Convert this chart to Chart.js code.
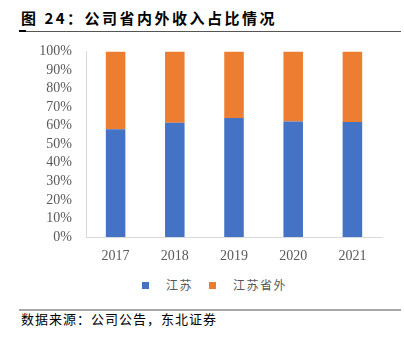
<!DOCTYPE html>
<html lang="zh">
<head>
    <meta charset="UTF-8">
    <title>公司省内外收入占比情况</title>
    <script src="https://cdn.jsdelivr.net/npm/chart.js"></script>
    <style>
        body {
            margin: 0;
            background: #fff;
        }
        .page {
            position: relative;
            width: 404px;
            height: 340px;
            overflow: hidden;
            font-family: "Noto Sans CJK SC", sans-serif;
        }
        .title {
            position: absolute;
            left: 21px;
            top: 9px;
            font-size: 15px;
            font-weight: bold;
            letter-spacing: 2.5px;
            color: #000;
            line-height: 18px;
            white-space: nowrap;
            z-index: 2;
        }
        .title-line {
            position: absolute;
            left: 19px;
            width: 382px;
            top: 31px;
            height: 1px;
            background: #555;
            z-index: 2;
        }
        .title-line::before {
            content: "";
            position: absolute;
            left: 0;
            top: -1px;
            width: 7px;
            height: 2px;
            background: #000;
        }
        .chart-box {
            position: absolute;
            left: 0;
            top: 29px;
            width: 404px;
            height: 241px;
        }
        .legend {
            position: absolute;
            top: 277px;
            left: 142px;
            font-size: 12px;
            color: #595959;
            letter-spacing: 1.5px;
            line-height: 16px;
            white-space: nowrap;
        }
        .legend span.item {
            display: inline-block;
            margin-right: 16px;
        }
        .legend i {
            display: inline-block;
            width: 7px;
            height: 7px;
            margin-right: 17px;
            vertical-align: 1px;
        }
        .source-line {
            position: absolute;
            left: 19px;
            width: 382px;
            top: 309px;
            height: 2px;
            background: #a6a6a6;
        }
        .source {
            position: absolute;
            left: 21px;
            top: 310px;
            font-size: 13px;
            letter-spacing: 1px;
            color: #000;
            line-height: 18px;
            white-space: nowrap;
        }
    </style>
</head>
<body>
    <div class="page">
        <div class="title">图 24：公司省内外收入占比情况</div>
        <div class="title-line"></div>
        <div class="chart-box"><canvas id="shareChart"></canvas></div>
        <div class="legend" id="legend"></div>
        <div class="source-line"></div>
        <div class="source">数据来源：公司公告，东北证券</div>
    </div>

    <script>
        // data
        const years = ['2017', '2018', '2019', '2020', '2021'];
        const seriesNames = ['江苏', '江苏省外'];
        const jiangsu = [58.1, 61.5, 64.1, 62.2, 62.0];
        const outside = [41.9, 38.5, 35.9, 37.8, 38.0];
        const colors = ['#4472C4', '#ED7D31'];
        const yTicks = [0, 10, 20, 30, 40, 50, 60, 70, 80, 90, 100];

        const tickFont = { family: '"Liberation Serif", "Times New Roman", serif', size: 14 };

        const chart = new Chart(document.getElementById('shareChart'), {
            type: 'bar',
            data: {
                labels: years,
                datasets: [
                    { label: seriesNames[0], data: jiangsu, backgroundColor: colors[0] },
                    { label: seriesNames[1], data: outside, backgroundColor: colors[1] }
                ]
            },
            options: {
                responsive: true,
                maintainAspectRatio: false,
                animation: false,
                datasets: {
                    bar: { barPercentage: 0.33, categoryPercentage: 1, borderWidth: 0 }
                },
                layout: { padding: { left: 0, right: 22, top: 8, bottom: 0 } },
                plugins: {
                    legend: { display: false },
                    tooltip: { enabled: false }
                },
                scales: {
                    x: {
                        stacked: true,
                        grid: { display: false, drawTicks: false },
                        border: { display: true, color: '#d9d9d9', width: 1 },
                        ticks: { color: '#595959', font: tickFont, padding: 11, autoSkip: false, maxRotation: 0 },
                        afterFit: s => { s.height = 33; }
                    },
                    y: {
                        stacked: true,
                        min: 0,
                        max: 100,
                        afterBuildTicks: s => { s.ticks = yTicks.map(v => ({ value: v })); },
                        grid: { display: false, drawTicks: false },
                        border: { display: true, color: '#d9d9d9', width: 1 },
                        ticks: {
                            color: '#595959',
                            font: tickFont,
                            padding: 14,
                            autoSkip: false,
                            callback: v => v + '%'
                        },
                        afterFit: s => { s.width = 86; }
                    }
                }
            }
        });

        // simple legend built from the same arrays
        document.getElementById('legend').innerHTML = seriesNames.map((n, i) =>
            `<span class="item"><i style="background:${colors[i]}"></i>${n}</span>`
        ).join('');
    </script>
</body>
</html>
